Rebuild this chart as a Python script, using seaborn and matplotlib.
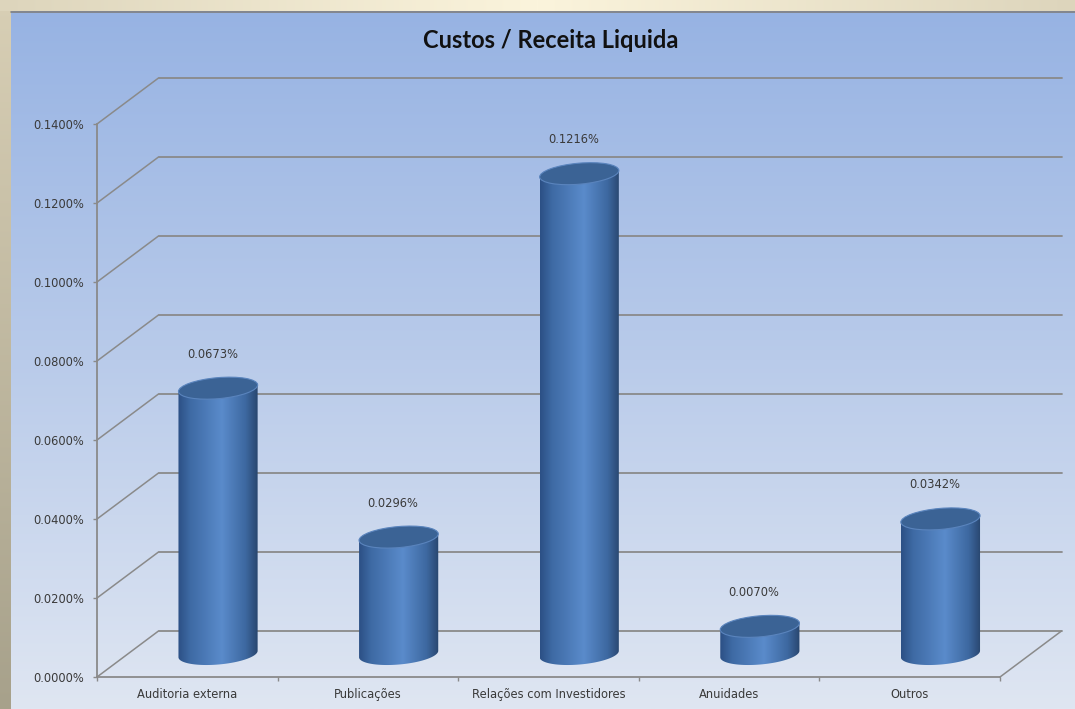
import numpy as np
import matplotlib
matplotlib.use("Agg")
import matplotlib.pyplot as plt
import seaborn as sns
from matplotlib.colors import LinearSegmentedColormap, to_rgb
from matplotlib.patches import Ellipse, Polygon
from matplotlib.transforms import Affine2D, ScaledTranslation

categories = ["Auditoria externa", "Publicações", "Relações com Investidores", "Anuidades", "Outros"]
values = [0.0673, 0.0296, 0.1216, 0.0070, 0.0342]  # percent
y_ticks = [0.00, 0.02, 0.04, 0.06, 0.08, 0.10, 0.12, 0.14]
title = "Custos / Receita Liquida"

W, H = 1075, 709
DEPTH = (61.5, 46.0)          # back wall offset in pixels
HALF = (DEPTH[0] / 2, DEPTH[1] / 2)
GRID = "#8a8a8a"
TXT = "#3a3a3a"

sns.set_theme(style="white")
fig = plt.figure(figsize=(W / 100, H / 100), dpi=100)

# ---- background: beige frame + blue gradient panel
bg = fig.add_axes([0, 0, 1, 1], zorder=-10)
bg.set_axis_off()
img = np.zeros((H, W, 3))
c_left_top, c_left_bot = np.array(to_rgb("#d8cfb5")), np.array(to_rgb("#a7a18b"))
t = np.linspace(0, 1, H)[:, None, None]
img[:] = c_left_top * (1 - t) + c_left_bot * t
xs = np.linspace(-1, 1, W)[:, None]
top_col = np.array(to_rgb("#fbf4dc")) * (1 - np.abs(xs)) + np.array(to_rgb("#ddd5bc")) * np.abs(xs)
img[:11, :, :] = top_col[None, :, :]
bg.imshow(img, extent=(0, W, H, 0), aspect="auto")
blue = LinearSegmentedColormap.from_list("panel", ["#97b3e3", "#b9cbea", "#dfe6f2"])
bg.imshow(np.linspace(0, 1, 256)[:, None], extent=(11, W, H, 11), cmap=blue, aspect="auto")
bg.plot([11, W], [11.5, 11.5], color="#7f7f7f", lw=1.2)
bg.set_xlim(0, W)
bg.set_ylim(H, 0)

# ---- main axes (front plane)
ax = fig.add_axes([97 / W, 32 / H, 903 / W, 553 / H])
ax.patch.set_alpha(0)
sns.barplot(x=categories, y=values, ax=ax, width=0.44, color="#4f81bd", saturation=1)
ax.set_xlim(-0.5, len(categories) - 0.5)
ax.set_ylim(0, 0.14)
for s in ["top", "right"]:
    ax.spines[s].set_visible(False)
for s in ["left", "bottom"]:
    ax.spines[s].set_color(GRID)
    ax.spines[s].set_linewidth(1.3)

back = ax.transData + Affine2D().translate(*DEPTH)
mid = ax.transData + Affine2D().translate(*HALF)
x0, x1 = -0.5, len(categories) - 0.5

# back wall gridlines and diagonals
for yt in y_ticks:
    ax.plot([x0, x1], [yt, yt], color=GRID, lw=1.3, transform=back, clip_on=False, zorder=1)
    p = ax.transData.transform((x0, yt))
    fig.lines.append(plt.Line2D([p[0], p[0] + DEPTH[0]], [p[1], p[1] + DEPTH[1]],
                                color=GRID, lw=1.1, transform=None, zorder=1))
p = ax.transData.transform((x1, 0))
fig.lines.append(plt.Line2D([p[0], p[0] + DEPTH[0]], [p[1], p[1] + DEPTH[1]],
                            color=GRID, lw=1.1, transform=None, zorder=1))

# cylinders
cyl = LinearSegmentedColormap.from_list(
    "cyl", [(0, "#2c5085"), (0.15, "#3e6aa4"), (0.55, "#5a8bcb"), (0.85, "#3d68a0"), (1, "#29466f")])
grad = np.linspace(0, 1, 200)[None, :]
px_w = ax.transData.transform((0.44, 0))[0] - ax.transData.transform((0, 0))[0]
ell_h = 21
tilt = np.deg2rad(5)
a, b = px_w / 2, ell_h / 2
th = np.linspace(np.pi, 2 * np.pi, 60)
arc = np.column_stack([a * np.cos(th) * np.cos(tilt) - b * np.sin(th) * np.sin(tilt),
                       a * np.cos(th) * np.sin(tilt) + b * np.sin(th) * np.cos(tilt)])
for i, (patch, v) in enumerate(zip(ax.patches, values)):
    bx, bw = patch.get_x(), patch.get_width()
    patch.set_visible(False)
    cx = bx + bw / 2
    base_t = ScaledTranslation(cx, 0, ax.transData) + Affine2D().translate(*HALF)
    v_px = ax.transData.transform((0, v))[1] - ax.transData.transform((0, 0))[1]
    body_pts = np.vstack([arc, [arc[-1] + (0, v_px)], [arc[0] + (0, v_px)]])
    body = Polygon(body_pts, closed=True, transform=base_t)
    im = ax.imshow(grad, extent=(bx, bx + bw, -0.01, v + 0.01), transform=mid, cmap=cyl,
                   aspect="auto", interpolation="bicubic", zorder=3)
    im.set_clip_path(body)
    top_t = ScaledTranslation(cx, v, ax.transData) + Affine2D().translate(*HALF)
    ax.add_patch(Ellipse((0, 0), px_w, ell_h, angle=5, transform=top_t,
                         facecolor="#3b6395", edgecolor="#5a84bd", lw=0.8, zorder=4))
    ax.annotate(f"{v:.4f}%", xy=(i, v), xytext=(25, HALF[1] + 34), textcoords="offset pixels",
                ha="center", va="center", fontsize=8.3, color=TXT)

ax.set_xlim(-0.5, len(categories) - 0.5)
ax.set_ylim(0, 0.14)

ax.set_yticks(y_ticks)
ax.set_yticklabels([f"{v:.4f}%" for v in y_ticks])
ax.set_xticks(range(len(categories)))
ax.set_xticklabels(categories)
ax.set_xticks(np.arange(-0.5, len(categories)), minor=True)
ax.tick_params(axis="x", which="major", length=0, pad=8, labelsize=8.3, labelcolor=TXT)
ax.tick_params(axis="x", which="minor", length=3, width=1, color=GRID, direction="out", bottom=True)
ax.tick_params(axis="y", length=3, width=1, color=GRID, direction="out", left=True,
               pad=6, labelsize=8.3, labelcolor=TXT)
ax.set_xlabel("")
ax.set_ylabel("")

fig.text(551 / W, 1 - 40 / H, title, ha="center", va="center", fontsize=17,
         fontweight="bold", family="Lato", color="#111111")

fig.savefig("out.png", dpi=100)
